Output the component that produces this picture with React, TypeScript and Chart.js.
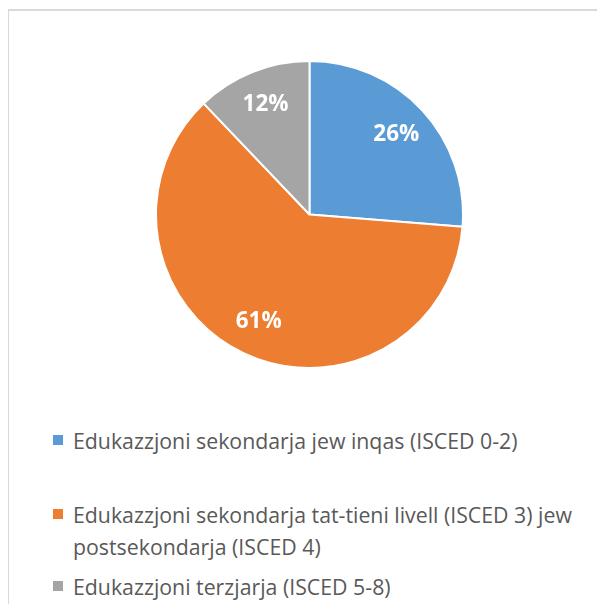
import React, { useEffect, useRef } from "react";
import { Chart, registerables } from "chart.js";

Chart.register(...registerables);

const categories = [
  "Edukazzjoni sekondarja jew inqas (ISCED 0-2)",
  "Edukazzjoni sekondarja tat-tieni livell (ISCED 3) jew postsekondarja (ISCED 4)",
  "Edukazzjoni terzjarja (ISCED 5-8)",
];
const shares = [26, 61, 12];
const colors = ["#5B9BD5", "#ED7D31", "#A5A5A5"];
const legendTops = [417, 491, 563];

const labelPlugin = {
  id: "sliceLabels",
  afterDatasetsDraw(chart: any) {
    const ctx = chart.ctx;
    const meta = chart.getDatasetMeta(0);
    ctx.save();
    ctx.fillStyle = "#FFFFFF";
    ctx.font = "bold 22.5px 'Open Sans'";
    ctx.textAlign = "center";
    ctx.textBaseline = "middle";
    meta.data.forEach((arc: any, i: number) => {
      const p = arc.getProps(["startAngle", "endAngle", "outerRadius", "x", "y"], true);
      const mid = (p.startAngle + p.endAngle) / 2;
      const r = p.outerRadius * 0.77;
      ctx.fillText(shares[i] + "%", p.x + Math.cos(mid) * r, p.y + Math.sin(mid) * r);
    });
    ctx.restore();
  },
};

export default function App() {
  const ref = useRef<HTMLCanvasElement | null>(null);
  useEffect(() => {
    if (!ref.current) return;
    const chart = new Chart(ref.current, {
      type: "pie",
      data: {
        labels: categories,
        datasets: [
          {
            data: shares,
            backgroundColor: colors,
            borderColor: "#FFFFFF",
            borderWidth: 2,
          },
        ],
      },
      options: {
        responsive: false,
        animation: false,
        plugins: {
          legend: { display: false },
          tooltip: { enabled: false },
        },
      },
      plugins: [labelPlugin],
    });
    return () => chart.destroy();
  }, []);

  return (
    <div
      style={{
        position: "relative",
        width: 589,
        height: 596,
        fontFamily: "'Open Sans', sans-serif",
      }}
    >
      <div
        style={{
          position: "absolute",
          left: -1,
          top: 1,
          width: 590,
          height: 595,
          borderTop: "2px solid #D9D9D9",
          borderLeft: "2px solid #D9D9D9",
          boxSizing: "border-box",
        }}
      />
      <canvas
        ref={ref}
        width={309}
        height={309}
        style={{ position: "absolute", left: 147, top: 52, width: 309, height: 309 }}
      />
      {categories.map((c, i) => (
        <div
          key={i}
          style={{
            position: "absolute",
            left: 45,
            top: legendTops[i],
            width: 535,
            display: "flex",
            alignItems: "flex-start",
            color: "#595959",
            fontSize: 21.3,
            lineHeight: "32px",
          }}
        >
          <span
            style={{
              display: "inline-block",
              width: 10,
              height: 10,
              marginTop: 10,
              marginRight: 10,
              background: colors[i],
              flex: "0 0 auto",
            }}
          />
          <span>{c}</span>
        </div>
      ))}
    </div>
  );
}
